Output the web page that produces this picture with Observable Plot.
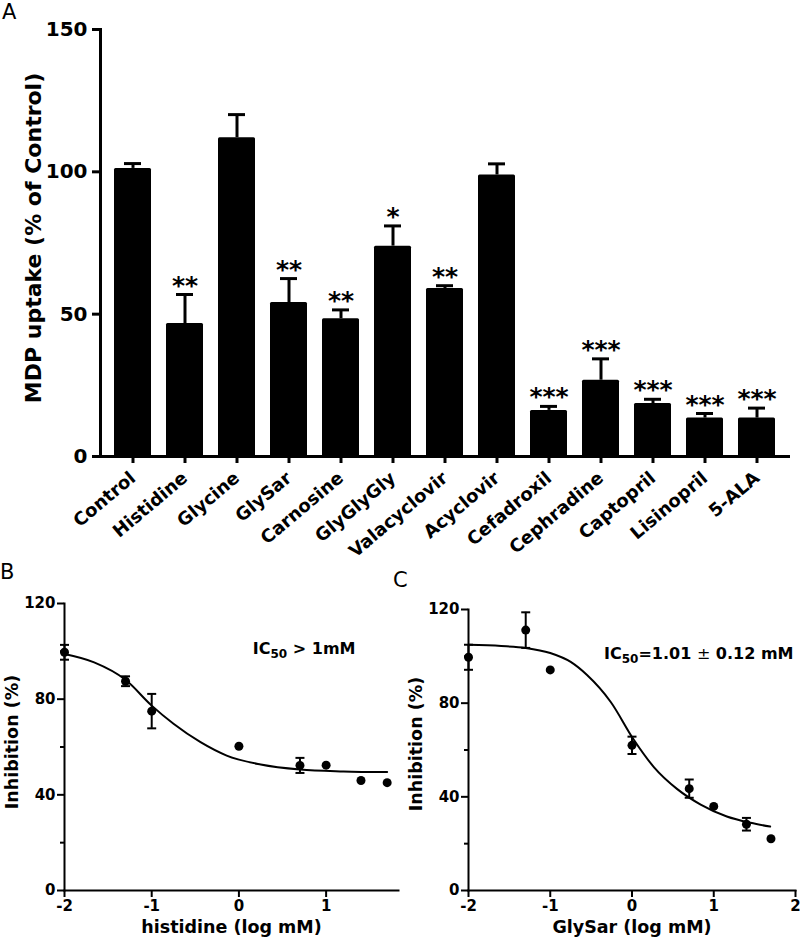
<!DOCTYPE html>
<html>
<head>
<meta charset="utf-8">
<script src="https://cdn.jsdelivr.net/npm/d3@7"></script>
<script src="https://cdn.jsdelivr.net/npm/@observablehq/plot@0.6"></script>
<style>
  body { margin: 0; background: #fff; }
  #fig { position: relative; width: 800px; height: 942px; overflow: hidden; font-family: "DejaVu Sans", sans-serif; color: #000; background: #fff; }
  .panel { position: absolute; }
  .tag { position: absolute; font-size: 21px; font-weight: normal; line-height: 1; }
  #fig svg { font-family: "DejaVu Sans", sans-serif; font-weight: bold; }
  #pa g[aria-label="y-axis tick label"] { font-size: 20px; }
  #pa g[aria-label="x-axis tick label"] { font-size: 18px; }
  #pb g[aria-label="y-axis tick label"], #pc g[aria-label="y-axis tick label"],
  #pb g[aria-label="x-axis tick label"], #pc g[aria-label="x-axis tick label"] { font-size: 15px; }
</style>
</head>
<body>
<div id="fig">
  <div class="panel" id="pa" style="left:0;top:0"></div>
  <div class="panel" id="pb" style="left:0;top:540px"></div>
  <div class="panel" id="pc" style="left:400px;top:540px"></div>
  <div class="tag" style="left:2px;top:2px">A</div>
  <div class="tag" style="left:0px;top:562px">B</div>
  <div class="tag" style="left:393px;top:570px">C</div>
</div>
<script>
// ---- Panel A data ----
const compounds = ["Control", "Histidine", "Glycine", "GlySar", "Carnosine", "GlyGlyGly", "Valacyclovir", "Acyclovir", "Cefadroxil", "Cephradine", "Captopril", "Lisinopril", "5-ALA"];
const uptake =    [101.2, 46.7, 112.0, 54.1, 48.4, 73.9, 59.0, 98.9, 16.2, 26.8, 18.6, 13.5, 13.5];
const uptakeSem = [1.7,   10.2, 8.1,   8.4,  3.1,  7.1,  1.0,  3.9,  1.4,  7.5,  1.5,  1.6,  3.5];
const significance = ["", "**", "", "**", "**", "*", "**", "", "***", "***", "***", "***", "***"];
const yTicksA = [0, 50, 100, 150];

// ---- Panel B data (histidine) ----
const histLogConc = [-2, -1.3, -1, 0, 0.7, 1, 1.4, 1.7];
const histMean =    [99.6, 87.5, 75.0, 60.3, 52.3, 52.4, 46.0, 45.1];
const histSem =     [3.1, 2.05, 7.2, 0, 3.15, 0, 0, 0];
const histFitX = [-2, -1.66, -1.3, -1.0, -0.75, -0.44, -0.14, 0.25, 0.7, 1.2, 1.7];
const histFitY = [98.9, 95.4, 88.1, 77.3, 69.7, 62.0, 56.4, 52.7, 50.6, 49.8, 49.5];

// ---- Panel C data (GlySar) ----
const glysarLogConc = [-2, -1.3, -1, 0, 0.7, 1, 1.4, 1.7];
const glysarMean =    [99.6, 111.2, 94.2, 62.0, 43.5, 35.9, 28.3, 22.1];
const glysarSem =     [5.35, 7.6, 0, 3.7, 3.9, 0, 2.7, 0];
const glysarFitX = [-2, -1.6, -1.3, -1.0, -0.75, -0.55, -0.26, 0.02, 0.27, 0.55, 0.84, 1.16, 1.45, 1.69];
const glysarFitY = [104.9, 104.4, 103.6, 101.4, 97.6, 92.0, 80.5, 64.5, 52.6, 43.4, 36.7, 31.6, 28.9, 27.3];

const yTicksBC = [0, 40, 80, 120];
const yMinorBC = [20, 60, 100];

const baseStyle = { fontFamily: "DejaVu Sans", fontWeight: "bold", background: "transparent", overflow: "visible", color: "black" };

// ---- Panel A ----
const dataA = compounds.map((name, i) => ({ name, value: uptake[i], hi: uptake[i] + uptakeSem[i], sig: significance[i] }));
const plotA = Plot.plot({
  width: 800, height: 540,
  marginLeft: 100, marginRight: 10, marginTop: 29, marginBottom: 84,
  style: { ...baseStyle, fontSize: "17px" },
  x: { domain: compounds, paddingInner: 0.28, paddingOuter: 0.17, label: null },
  y: { domain: [0, 150], label: null },
  marks: [
    Plot.barY(dataA, { x: "name", y: "value", fill: "black", rx: 1.5 }),
    Plot.ruleX(dataA, { x: "name", y1: "value", y2: "hi", stroke: "black", strokeWidth: 3 }),
    Plot.tickY(dataA, { x: "name", y: "hi", stroke: "black", strokeWidth: 3, insetLeft: 10, insetRight: 10 }),
    Plot.text(dataA, { x: "name", y: "hi", text: "sig", fontSize: 25, fontWeight: "bold", dy: -9 }),
    Plot.axisY({ ticks: yTicksA, tickSize: 8, tickPadding: 5, strokeWidth: 3, fontSize: 20, label: null }),
    Plot.axisX({ tickSize: 7, tickPadding: 12, tickRotate: -40, strokeWidth: 3, fontSize: 18, label: null }),
    Plot.ruleY([0], { strokeWidth: 3 }),
    Plot.frame({ anchor: "left", strokeWidth: 3 }),
    Plot.text(["MDP uptake (% of Control)"], { text: d => d, frameAnchor: "left", rotate: -90, textAnchor: "middle", dx: -67, dy: -5, fontSize: 22, fontWeight: "bold" })
  ]
});
document.getElementById("pa").appendChild(plotA);

// error-bar cap symbol (horizontal stroke)
const capSymbol = {
  draw(context, size) {
    const r = Math.sqrt(size / Math.PI);
    context.moveTo(-r, 0);
    context.lineTo(r, 0);
  }
};

function dosePanel({ xs, means, sems, fitX, fitY, xDomain, xTicks, marginTop, marginLeft, marginRight, xTitle, note, noteDx, noteDy, ylabDx, ylabDy }) {
  const pts = xs.map((x, i) => ({ x, y: means[i], lo: means[i] - sems[i], hi: means[i] + sems[i], sem: sems[i] }));
  const errs = pts.filter(d => d.sem > 0);
  const fit = fitX.map((x, i) => ({ x, y: fitY[i] }));
  return Plot.plot({
    width: 400, height: 402,
    marginTop, marginLeft, marginRight, marginBottom: 52,
    style: { ...baseStyle, fontSize: "15px" },
    x: { domain: xDomain, label: null },
    y: { domain: [0, 120], label: null },
    marks: [
      Plot.frame({ anchor: "left", strokeWidth: 2 }),
      Plot.frame({ anchor: "bottom", strokeWidth: 2 }),
      Plot.axisY(yTicksBC, { tickSize: 7, tickPadding: 2, strokeWidth: 2, fontSize: 15, label: null }),
      Plot.axisY(yMinorBC, { tickSize: 4, strokeWidth: 2, tickFormat: () => "", label: null }),
      Plot.axisX(xTicks, { tickSize: 7, tickPadding: 3, strokeWidth: 2, fontSize: 15, tickFormat: d => String(d), label: null }),
      Plot.line(fit, { x: "x", y: "y", stroke: "black", strokeWidth: 2, curve: "monotone-x" }),
      Plot.ruleX(errs, { x: "x", y1: "lo", y2: "hi", stroke: "black", strokeWidth: 2 }),
      Plot.dot(errs, { x: "x", y: "lo", symbol: capSymbol, r: 4.5, fill: "none", stroke: "black", strokeWidth: 2 }),
      Plot.dot(errs, { x: "x", y: "hi", symbol: capSymbol, r: 4.5, fill: "none", stroke: "black", strokeWidth: 2 }),
      Plot.dot(pts, { x: "x", y: "y", r: 4.5, fill: "black", stroke: "none" }),
      Plot.text([note], { text: d => d, frameAnchor: "top-right", textAnchor: "end", lineAnchor: "top", dx: noteDx, dy: noteDy, fontSize: 16, fontWeight: "bold" }),
      Plot.text([xTitle], { text: d => d, frameAnchor: "bottom", dy: 42, fontSize: 17.5, fontWeight: "bold" }),
      Plot.text(["Inhibition (%)"], { text: d => d, frameAnchor: "left", rotate: -90, textAnchor: "middle", dx: ylabDx, dy: ylabDy, fontSize: 17.5, fontWeight: "bold" })
    ]
  });
}

const plotB = dosePanel({
  xs: histLogConc, means: histMean, sems: histSem, fitX: histFitX, fitY: histFitY,
  xDomain: [-2, 1.83], xTicks: [-2, -1, 0, 1],
  marginTop: 63, marginLeft: 64, marginRight: 2,
  xTitle: "histidine (log mM)", note: "IC50 > 1mM", noteDx: -43, noteDy: 39, ylabDx: -52, ylabDy: -5
});
document.getElementById("pb").appendChild(plotB);

const plotC = dosePanel({
  xs: glysarLogConc, means: glysarMean, sems: glysarSem, fitX: glysarFitX, fitY: glysarFitY,
  xDomain: [-2, 2], xTicks: [-2, -1, 0, 1, 2],
  marginTop: 69, marginLeft: 68, marginRight: 5,
  xTitle: "GlySar (log mM)", note: "IC50=1.01 ± 0.12 mM", noteDx: -2, noteDy: 38, ylabDx: -52, ylabDy: -6
});
document.getElementById("pc").appendChild(plotC);

// typeset "IC50" with a real subscript and a lighter ± sign
for (const t of document.querySelectorAll("#fig svg text")) {
  const s = t.textContent;
  if (!s.startsWith("IC50")) continue;
  const rest = s.slice(4);
  t.textContent = "";
  const ns = "http://www.w3.org/2000/svg";
  const add = (txt, attrs) => {
    const sp = document.createElementNS(ns, "tspan");
    sp.textContent = txt;
    for (const k in attrs) sp.setAttribute(k, attrs[k]);
    t.appendChild(sp);
  };
  add("IC", {});
  add("50", { "font-size": "12px", dy: "4" });
  const pm = rest.indexOf("±");
  if (pm < 0) {
    add(rest, { dy: "-4" });
  } else {
    add(rest.slice(0, pm), { dy: "-4" });
    add("±", { "font-weight": "normal" });
    add(rest.slice(pm + 1), {});
  }
}
</script>
</body>
</html>
